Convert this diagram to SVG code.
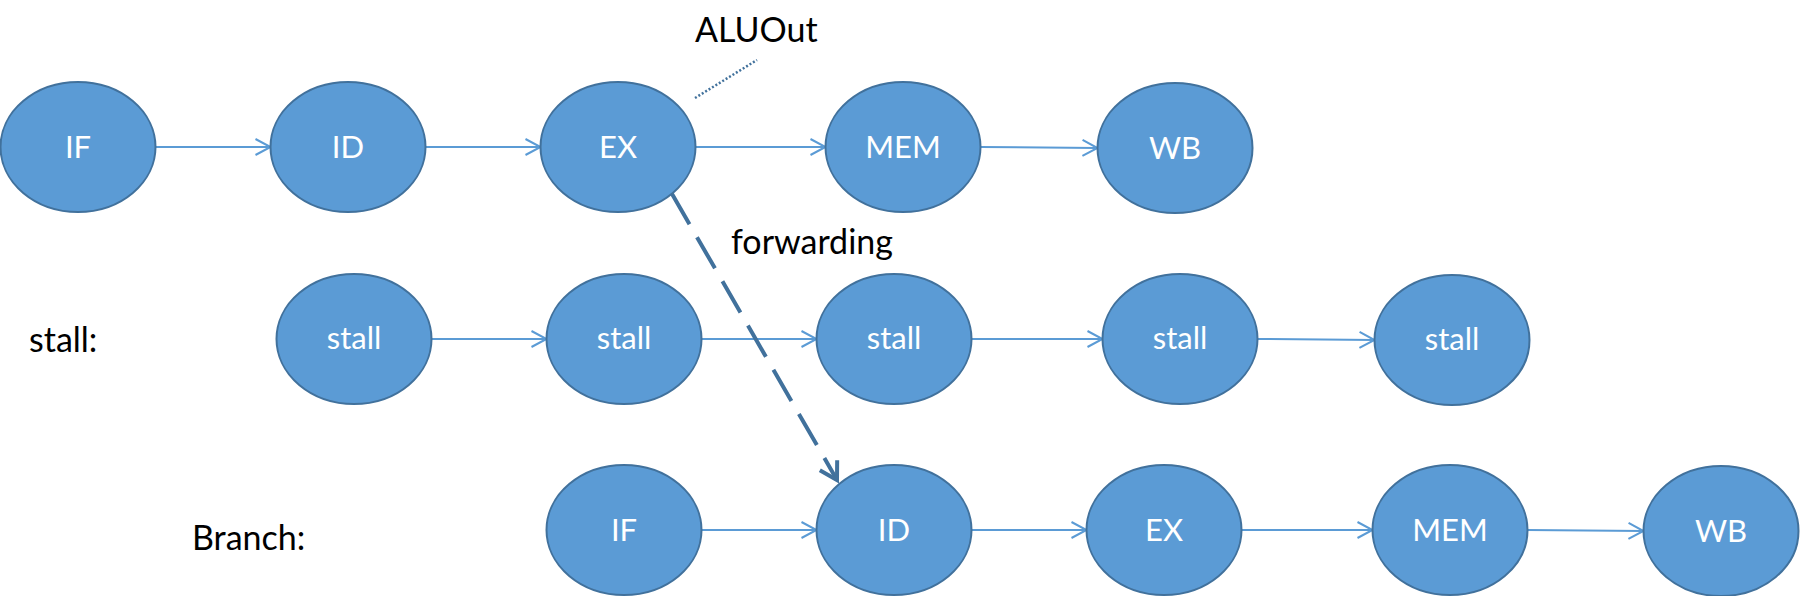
<svg xmlns="http://www.w3.org/2000/svg" width="1801" height="596" viewBox="0 0 1801 596">
<style>
.node ellipse{fill:#5b9bd5;stroke:#41719c;stroke-width:2}
.node text{fill:#ffffff;font-family:Lato,"Liberation Sans",sans-serif;font-size:31px;text-anchor:middle}
.lbl{fill:#000000;font-family:Lato,"Liberation Sans",sans-serif;font-size:34px}
.flow{stroke:#5b9bd5;stroke-width:2;fill:none;marker-end:url(#open)}
.fwd{stroke:#41719c;stroke-width:4;fill:none;stroke-dasharray:36 15;marker-end:url(#openDark)}
.dot{stroke:#41719c;stroke-width:2.5;fill:none;stroke-dasharray:2 2}
</style>
<defs>
<marker id="open" markerUnits="userSpaceOnUse" markerWidth="20" markerHeight="20" viewBox="-16 -10 20 20" refX="0" refY="0" orient="auto">
<path d="M-15,-8 L0,0 L-15,8" fill="none" stroke="#5b9bd5" stroke-width="2"/>
</marker>
<marker id="openDark" markerUnits="userSpaceOnUse" markerWidth="30" markerHeight="30" viewBox="-20 -15 24 30" refX="0" refY="0" orient="auto">
<path d="M-17,-10 L0,0 L-17,10" fill="none" stroke="#41719c" stroke-width="4" stroke-dasharray="none"/>
</marker>
</defs>

<g id="labels">
<text class="lbl" x="695" y="42">ALUOut</text>
<text class="lbl" x="731" y="254">forwarding</text>
<text class="lbl" x="29" y="352">stall:</text>
<text class="lbl" x="192" y="550">Branch:</text>
</g>

<g id="connectors">
<line class="flow" x1="155.5" y1="147" x2="270.5" y2="147"/>
<line class="flow" x1="425.5" y1="147" x2="540.5" y2="147"/>
<line class="flow" x1="695.5" y1="147" x2="825.5" y2="147"/>
<line class="flow" x1="980.5" y1="147" x2="1097.5" y2="148"/>
<line class="flow" x1="431.5" y1="339" x2="546.5" y2="339"/>
<line class="flow" x1="701.5" y1="339" x2="816.5" y2="339"/>
<line class="flow" x1="971.5" y1="339" x2="1102.5" y2="339"/>
<line class="flow" x1="1257.5" y1="339" x2="1374.5" y2="340"/>
<line class="flow" x1="701.5" y1="530" x2="816.5" y2="530"/>
<line class="flow" x1="971.5" y1="530" x2="1086.5" y2="530"/>
<line class="flow" x1="1241.5" y1="530" x2="1372.5" y2="530"/>
<line class="flow" x1="1527.5" y1="530" x2="1643.5" y2="531"/>
<line class="fwd" x1="671.5" y1="193" x2="837" y2="480"/>
<line class="dot" x1="695" y1="98" x2="757" y2="60"/>
</g>

<g id="n-if1" class="node"><ellipse cx="78" cy="147" rx="77.5" ry="65"/><text x="78" y="158">IF</text></g>
<g id="n-id1" class="node"><ellipse cx="348" cy="147" rx="77.5" ry="65"/><text x="348" y="158">ID</text></g>
<g id="n-ex1" class="node"><ellipse cx="618" cy="147" rx="77.5" ry="65"/><text x="618" y="158">EX</text></g>
<g id="n-mem1" class="node"><ellipse cx="903" cy="147" rx="77.5" ry="65"/><text x="903" y="158">MEM</text></g>
<g id="n-wb1" class="node"><ellipse cx="1175" cy="148" rx="77.5" ry="65"/><text x="1175" y="159">WB</text></g>

<g id="n-stall1" class="node"><ellipse cx="354" cy="339" rx="77.5" ry="65"/><text x="354" y="349">stall</text></g>
<g id="n-stall2" class="node"><ellipse cx="624" cy="339" rx="77.5" ry="65"/><text x="624" y="349">stall</text></g>
<g id="n-stall3" class="node"><ellipse cx="894" cy="339" rx="77.5" ry="65"/><text x="894" y="349">stall</text></g>
<g id="n-stall4" class="node"><ellipse cx="1180" cy="339" rx="77.5" ry="65"/><text x="1180" y="349">stall</text></g>
<g id="n-stall5" class="node"><ellipse cx="1452" cy="340" rx="77.5" ry="65"/><text x="1452" y="350">stall</text></g>

<g id="n-if3" class="node"><ellipse cx="624" cy="530" rx="77.5" ry="65"/><text x="624" y="541">IF</text></g>
<g id="n-id3" class="node"><ellipse cx="894" cy="530" rx="77.5" ry="65"/><text x="894" y="541">ID</text></g>
<g id="n-ex3" class="node"><ellipse cx="1164" cy="530" rx="77.5" ry="65"/><text x="1164" y="541">EX</text></g>
<g id="n-mem3" class="node"><ellipse cx="1450" cy="530" rx="77.5" ry="65"/><text x="1450" y="541">MEM</text></g>
<g id="n-wb3" class="node"><ellipse cx="1721" cy="531" rx="77.5" ry="65"/><text x="1721" y="542">WB</text></g>
</svg>
